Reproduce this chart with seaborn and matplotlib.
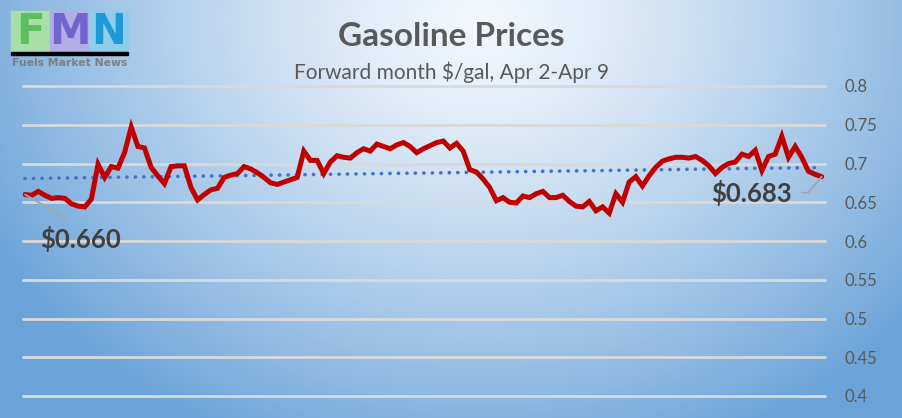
import numpy as np
import pandas as pd
import matplotlib
matplotlib.use("Agg")
import matplotlib.pyplot as plt
import seaborn as sns
from matplotlib.patches import Rectangle

# ==========================================================
# DATA
# ==========================================================

prices = [
    0.660, 0.659, 0.664, 0.659, 0.655, 0.656, 0.655, 0.648, 0.645, 0.644,
    0.654, 0.699, 0.682, 0.696, 0.694, 0.714, 0.747, 0.722, 0.720, 0.695,
    0.684, 0.674, 0.696, 0.697, 0.697, 0.669, 0.653, 0.660, 0.666, 0.668,
    0.682, 0.685, 0.687, 0.696, 0.693, 0.688, 0.682, 0.675, 0.673, 0.676,
    0.679, 0.682, 0.716, 0.704, 0.704, 0.687, 0.702, 0.710, 0.708, 0.707,
    0.714, 0.719, 0.716, 0.725, 0.722, 0.719, 0.724, 0.727, 0.722, 0.714,
    0.719, 0.723, 0.727, 0.729, 0.720, 0.726, 0.716, 0.692, 0.689, 0.680,
    0.669, 0.652, 0.656, 0.650, 0.649, 0.658, 0.656, 0.661, 0.664, 0.656,
    0.656, 0.659, 0.651, 0.645, 0.644, 0.651, 0.639, 0.644, 0.636, 0.661,
    0.650, 0.676, 0.683, 0.671, 0.684, 0.695, 0.703, 0.706, 0.708, 0.708,
    0.707, 0.709, 0.704, 0.697, 0.687, 0.695, 0.700, 0.702, 0.712, 0.709,
    0.717, 0.691, 0.709, 0.712, 0.735, 0.708, 0.722, 0.708, 0.690, 0.686,
    0.683,
]

y_ticks = [0.4, 0.45, 0.5, 0.55, 0.6, 0.65, 0.7, 0.75, 0.8]

title = "Gasoline Prices"
subtitle = "Forward month $/gal, Apr 2-Apr 9"

df = pd.DataFrame({"step": np.arange(len(prices)), "price": prices})

# ==========================================================
# STYLE
# ==========================================================

sns.set_theme(style="white")
plt.rcParams["font.family"] = ["Lato", "DejaVu Sans"]

TEXT = "#595959"
DARK = "#404040"
RED = "#C00000"
BLUE = "#4472C4"
GRID = "#D9D9D9"

W, H = 902, 418
fig = plt.figure(figsize=(W / 100, H / 100), dpi=100)

# ==========================================================
# BACKGROUND GRADIENT
# ==========================================================

bg = fig.add_axes([0, 0, 1, 1], zorder=-10)
xx, yy = np.meshgrid(np.arange(W), np.arange(H))
d = np.sqrt(((xx - 480) / 560.0) ** 2 + ((yy - 20) / 470.0) ** 2)
t = np.clip(d, 0, 1) ** 1.3
light = np.array([0.95, 0.97, 0.99])
dark = np.array([0.42, 0.64, 0.85])
img = light[None, None, :] * (1 - t[..., None]) + dark[None, None, :] * t[..., None]
bg.imshow(img, aspect="auto", extent=(0, W, H, 0))
bg.set_xlim(0, W)
bg.set_ylim(H, 0)
bg.axis("off")

# ==========================================================
# LOGO
# ==========================================================

logo = [("F", "#A8DFA8", "#5DBE5D"), ("M", "#B4ACE6", "#7064CF"), ("N", "#8FCDEA", "#1E9AD6")]
for i, (ch, back, front) in enumerate(logo):
    x0 = 11 + i * 39
    bg.add_patch(Rectangle((x0, 11), 39, 42, color=back, zorder=1))
    bg.text(x0 + 19.5, 32.5, ch, ha="center", va="center", fontsize=30,
            fontweight="bold", color=front, family="DejaVu Sans", zorder=2)
bg.add_patch(Rectangle((11, 52), 117, 3, color="black", zorder=3))
bg.text(69.5, 62.5, "Fuels Market News", ha="center", va="center", fontsize=7.8,
        fontweight="bold", color="#7F7F7F", zorder=2, family="DejaVu Sans")

# ==========================================================
# TITLES
# ==========================================================

fig.text(451 / W, 1 - 37 / H, title, ha="center", va="center",
         fontsize=24, fontweight="bold", color=TEXT)
fig.text(451 / W, 1 - 72 / H, subtitle, ha="center", va="center",
         fontsize=15, color=TEXT)

# ==========================================================
# MAIN CHART
# ==========================================================

ax = fig.add_axes([23 / W, (H - 396) / H, (825 - 23) / W, (396 - 86) / H])
ax.set_facecolor("none")

sns.regplot(data=df, x="step", y="price", scatter=False, ci=None, ax=ax,
            truncate=True,
            line_kws=dict(color=BLUE, linestyle=(0, (0.05, 2.3)), linewidth=2.6,
                          dash_capstyle="round", zorder=2))

sns.lineplot(data=df, x="step", y="price", ax=ax, color=RED, linewidth=3.6,
             zorder=3, solid_joinstyle="miter")

ax.set_xlim(-0.3, len(prices) - 0.5)
ax.set_ylim(0.4, 0.8)
ax.set_yticks(y_ticks)
ax.set_yticklabels([f"{v:g}" for v in y_ticks])
ax.yaxis.tick_right()
ax.tick_params(axis="y", length=0, pad=14, labelsize=12, labelcolor=TEXT)
ax.set_xticks([])
ax.set_xlabel("")
ax.set_ylabel("")
ax.yaxis.grid(True, color=GRID, linewidth=2)
for gl in ax.get_ygridlines():
    gl.set_clip_on(False)
ax.set_axisbelow(True)
sns.despine(ax=ax, left=True, bottom=True, right=True, top=True)

# ==========================================================
# DATA LABELS
# ==========================================================

first, last = prices[0], prices[-1]
n = len(prices) - 1

ax.annotate(f"${first:.3f}", xy=(0, first), xytext=(15, -45),
            textcoords="offset pixels", ha="left", va="center",
            fontsize=18.5, fontweight="bold", color=DARK,
            arrowprops=dict(arrowstyle="-", color="#A6A6A6", lw=1.3,
                            shrinkA=6, shrinkB=0, relpos=(0.5, 1.0)))

ax.annotate(f"${last:.3f}", xy=(n, last), xytext=(-30, -16),
            textcoords="offset pixels", ha="right", va="center",
            fontsize=18.5, fontweight="bold", color=DARK,
            arrowprops=dict(arrowstyle="-", color="#A6A6A6", lw=1.3,
                            shrinkA=5, shrinkB=0,
                            connectionstyle="angle,angleA=0,angleB=50,rad=0"))

fig.savefig("out.png", dpi=100)
